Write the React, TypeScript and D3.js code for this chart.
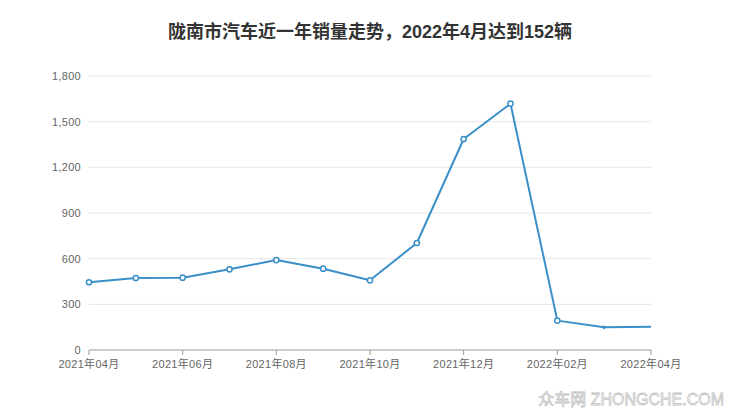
import { scaleLinear, line as d3line } from "d3";

const months = [
  "2021年04月", "2021年05月", "2021年06月", "2021年07月", "2021年08月", "2021年09月",
  "2021年10月", "2021年11月", "2021年12月", "2022年01月", "2022年02月", "2022年03月", "2022年04月",
];
const sales = [445, 473, 475, 530, 591, 534, 458, 703, 1386, 1618, 193, 149, 152];
const yTicks = [0, 300, 600, 900, 1200, 1500, 1800];
const xLabelIdx = [0, 2, 4, 6, 8, 10, 12];

const W = 740;
const H = 417;
const M = { top: 76, right: 89, bottom: 67, left: 89 };
const BLUE = "#3a8fc8";
const FONT = "'Liberation Sans', 'Noto Sans CJK SC', sans-serif";

export default function App() {
  const x = scaleLinear().domain([0, months.length - 1]).range([M.left, W - M.right]);
  const y = scaleLinear().domain([0, 1800]).range([H - M.bottom, M.top]);
  const path = d3line<number>().x((_, i) => x(i)).y((d) => y(d))(sales) ?? "";
  const fmt = (v: number) => v.toLocaleString("en-US");

  return (
    <svg width={W} height={H} style={{ position: "absolute", left: 0, top: 0, background: "#fff" }} fontFamily={FONT}>
      <text x={W / 2} y={38} textAnchor="middle" fontSize={18} fontWeight="bold" fill="#333">
        陇南市汽车近一年销量走势，2022年4月达到152辆
      </text>

      {/* grid + y labels */}
      {yTicks.map((t) => (
        <g key={t}>
          {t > 0 && <line x1={M.left} x2={W - M.right} y1={y(t)} y2={y(t)} stroke="#e6e6e6" strokeWidth={1} />}
          <text x={M.left - 8} y={y(t) + 4} textAnchor="end" fontSize={11} fill="#666" letterSpacing={0.3}>
            {fmt(t)}
          </text>
        </g>
      ))}

      {/* x axis */}
      <line x1={M.left} x2={W - M.right} y1={y(0)} y2={y(0)} stroke="#999" strokeWidth={1} />
      {xLabelIdx.map((i) => (
        <g key={i}>
          <line x1={x(i)} x2={x(i)} y1={y(0)} y2={y(0) + 5} stroke="#999" strokeWidth={1} />
          <text x={x(i)} y={y(0) + 18} textAnchor="middle" fontSize={11} fill="#666" letterSpacing={0.3}>
            {months[i]}
          </text>
        </g>
      ))}

      <path d={path} fill="none" stroke={BLUE} strokeWidth={2} strokeLinejoin="round" />
      {sales.map((v, i) =>
        i === sales.length - 1 ? null : i === sales.length - 2 ? (
          <circle key={i} cx={x(i)} cy={y(v)} r={1.8} fill={BLUE} />
        ) : (
          <circle key={i} cx={x(i)} cy={y(v)} r={2.6} fill="#fff" stroke={BLUE} strokeWidth={1.5} />
        )
      )}

      <text x={724} y={405} textAnchor="end" fontSize={16} fill="#fff" stroke="#c4c4c4" strokeWidth={0.8}>
        众车网 ZHONGCHE.COM
      </text>
    </svg>
  );
}
